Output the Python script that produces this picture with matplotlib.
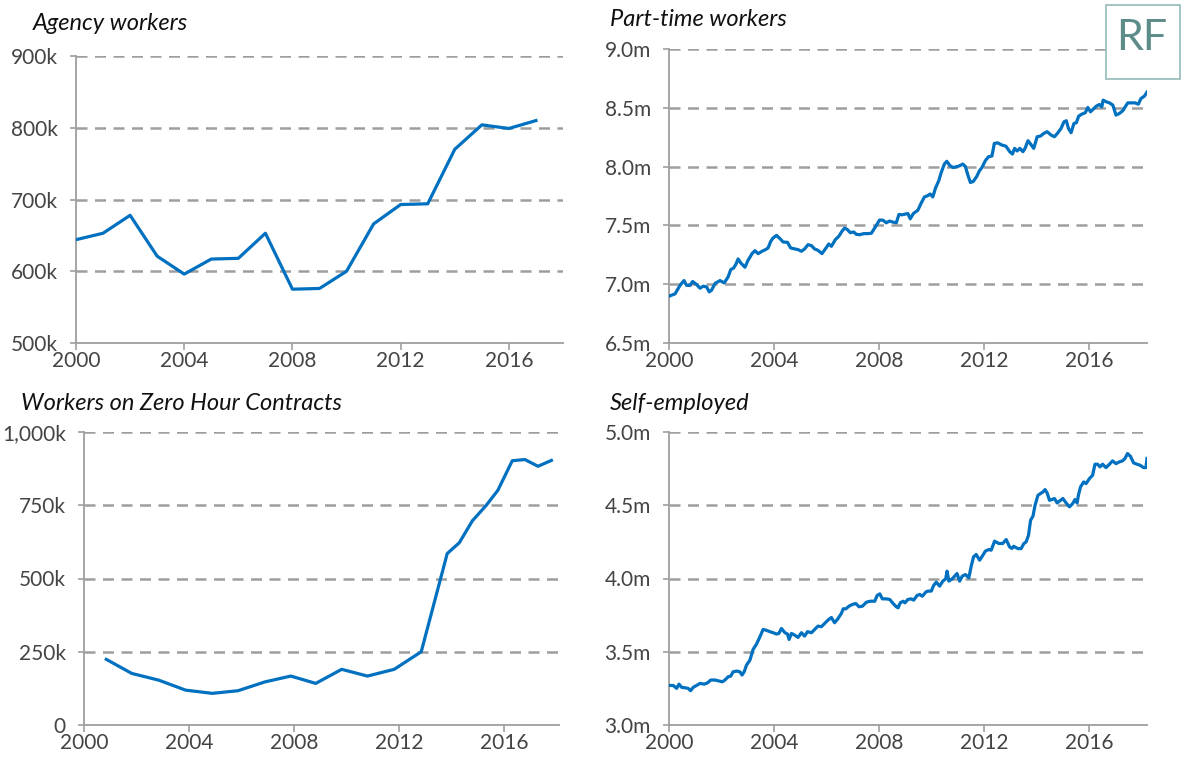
import matplotlib
matplotlib.use("Agg")
import matplotlib.pyplot as plt
from matplotlib.patches import Rectangle

# ---------------- data ----------------
agency_years = list(range(2000, 2018))
agency_vals = [644, 653, 678, 621, 596, 617, 618, 653, 575, 576, 600, 666,
               693, 694, 770, 804, 799, 810]  # thousands

zhc_years = [2000.85, 2001.82, 2002.85, 2003.87, 2004.89, 2005.87, 2006.89,
             2007.88, 2008.83, 2009.82, 2010.8, 2011.82, 2012.85, 2013.84,
             2014.3, 2014.8, 2015.33, 2015.77, 2016.32, 2016.8, 2017.3, 2017.81]
zhc_vals = [224, 176, 153, 119, 108, 117, 147, 167, 142, 190, 167, 190, 250,
            585, 622, 697, 750, 801, 902, 906, 883, 903]  # thousands

pt_years = [2000.0, 2000.23, 2000.42, 2000.57, 2000.67, 2000.8, 2000.9, 2001.05,
            2001.18, 2001.3, 2001.43, 2001.53, 2001.62, 2001.75, 2001.94, 2002.1,
            2002.25, 2002.35, 2002.46, 2002.54, 2002.63, 2002.73, 2002.89, 2003.0,
            2003.16, 2003.27, 2003.39, 2003.54, 2003.67, 2003.77, 2003.87, 2003.96,
            2004.09, 2004.24, 2004.34, 2004.51, 2004.63, 2004.78, 2004.91, 2005.04,
            2005.16, 2005.29, 2005.42, 2005.54, 2005.67, 2005.82, 2005.95, 2006.08,
            2006.18, 2006.33, 2006.46, 2006.58, 2006.68, 2006.78, 2006.9, 2007.03,
            2007.13, 2007.26, 2007.41, 2007.57, 2007.7, 2007.86, 2008.01, 2008.14,
            2008.27, 2008.39, 2008.52, 2008.65, 2008.75, 2008.87, 2009.0, 2009.09,
            2009.18, 2009.3, 2009.47, 2009.6, 2009.72, 2009.85, 2009.94, 2010.04,
            2010.14, 2010.27, 2010.35, 2010.48, 2010.57, 2010.7, 2010.82, 2010.95,
            2011.05, 2011.18, 2011.28, 2011.37, 2011.47, 2011.58, 2011.71, 2011.81,
            2011.91, 2012.04, 2012.16, 2012.29, 2012.38, 2012.51, 2012.67, 2012.82,
            2012.97, 2013.07, 2013.15, 2013.25, 2013.35, 2013.47, 2013.55, 2013.66,
            2013.76, 2013.88, 2014.01, 2014.14, 2014.26, 2014.39, 2014.54, 2014.67,
            2014.8, 2014.92, 2015.03, 2015.12, 2015.2, 2015.3, 2015.41, 2015.5,
            2015.59, 2015.71, 2015.84, 2015.94, 2016.04, 2016.13, 2016.26, 2016.38,
            2016.47, 2016.52, 2016.64, 2016.76, 2016.89, 2016.95, 2017.01, 2017.14,
            2017.27, 2017.36, 2017.46, 2017.58, 2017.73, 2017.86, 2017.96, 2018.09,
            2018.19]
pt_vals = [6.898, 6.918, 6.99, 7.031, 6.99, 6.99, 7.023, 6.997,
           6.966, 6.983, 6.977, 6.935, 6.949, 7.006, 7.031, 7.011,
           7.062, 7.124, 7.138, 7.167, 7.215, 7.181, 7.144, 7.2,
           7.26, 7.285, 7.26, 7.28, 7.294, 7.308, 7.364, 7.393,
           7.415, 7.384, 7.359, 7.356, 7.308, 7.3, 7.294, 7.28,
           7.3, 7.336, 7.328, 7.3, 7.288, 7.26, 7.3, 7.342,
           7.322, 7.379, 7.407, 7.449, 7.477, 7.466, 7.438, 7.444,
           7.424, 7.421, 7.43, 7.43, 7.433, 7.489, 7.545, 7.545,
           7.522, 7.537, 7.528, 7.522, 7.593, 7.59, 7.596, 7.601,
           7.556, 7.601, 7.629, 7.691, 7.742, 7.753, 7.767, 7.742,
           7.817, 7.882, 7.944, 8.022, 8.045, 8.006, 7.992, 8.0,
           8.006, 8.022, 8.0, 7.93, 7.865, 7.874, 7.916, 7.963,
           7.992, 8.051, 8.084, 8.09, 8.197, 8.202, 8.183, 8.174,
           8.126, 8.107, 8.155, 8.133, 8.155, 8.127, 8.155, 8.22,
           8.192, 8.155, 8.254, 8.26, 8.282, 8.297, 8.268, 8.254,
           8.288, 8.325, 8.381, 8.39, 8.325, 8.288, 8.367, 8.373,
           8.429, 8.446, 8.458, 8.503, 8.466, 8.486, 8.514, 8.528,
           8.508, 8.565, 8.551, 8.542, 8.523, 8.48, 8.438, 8.452,
           8.475, 8.508, 8.542, 8.542, 8.542, 8.531, 8.579, 8.599,
           8.633]  # millions

se_years = [2000.0, 2000.16, 2000.29, 2000.38, 2000.48, 2000.61, 2000.73, 2000.82,
            2000.92, 2001.05, 2001.18, 2001.34, 2001.47, 2001.59, 2001.75, 2001.87,
            2002.03, 2002.13, 2002.25, 2002.35, 2002.44, 2002.57, 2002.7, 2002.78,
            2002.86, 2002.95, 2003.08, 2003.2, 2003.33, 2003.46, 2003.58, 2003.68,
            2003.84, 2003.96, 2004.09, 2004.18, 2004.28, 2004.41, 2004.51, 2004.57,
            2004.66, 2004.78, 2004.91, 2005.04, 2005.16, 2005.27, 2005.42, 2005.54,
            2005.67, 2005.8, 2005.92, 2006.05, 2006.18, 2006.3, 2006.41, 2006.56,
            2006.63, 2006.73, 2006.85, 2006.98, 2007.11, 2007.23, 2007.36, 2007.51,
            2007.66, 2007.83, 2007.92, 2008.02, 2008.12, 2008.27, 2008.4, 2008.53,
            2008.65, 2008.72, 2008.8, 2008.91, 2008.98, 2009.09, 2009.22, 2009.31,
            2009.44, 2009.54, 2009.64, 2009.77, 2009.85, 2009.98, 2010.07, 2010.17,
            2010.3, 2010.42, 2010.53, 2010.58, 2010.65, 2010.78, 2010.87, 2010.96,
            2011.06, 2011.16, 2011.28, 2011.41, 2011.5, 2011.59, 2011.69, 2011.82,
            2011.92, 2012.04, 2012.17, 2012.26, 2012.39, 2012.55, 2012.7, 2012.83,
            2012.96, 2013.05, 2013.12, 2013.2, 2013.28, 2013.4, 2013.5, 2013.59,
            2013.68, 2013.76, 2013.85, 2013.93, 2014.04, 2014.14, 2014.23, 2014.31,
            2014.39, 2014.48, 2014.57, 2014.67, 2014.77, 2014.9, 2014.99, 2015.11,
            2015.24, 2015.36, 2015.45, 2015.53, 2015.58, 2015.66, 2015.78, 2015.87,
            2016.0, 2016.12, 2016.21, 2016.31, 2016.4, 2016.5, 2016.63, 2016.76,
            2016.88, 2017.01, 2017.14, 2017.26, 2017.35, 2017.45, 2017.56, 2017.68,
            2017.81, 2017.93, 2018.06, 2018.15, 2018.19]
se_vals = [3.27, 3.27, 3.25, 3.279, 3.257, 3.254, 3.25, 3.234,
           3.257, 3.27, 3.284, 3.279, 3.288, 3.307, 3.307, 3.302,
           3.295, 3.307, 3.329, 3.334, 3.363, 3.368, 3.363, 3.341,
           3.363, 3.409, 3.443, 3.516, 3.552, 3.602, 3.652, 3.648,
           3.637, 3.63, 3.621, 3.625, 3.659, 3.63, 3.621, 3.584,
           3.625, 3.614, 3.598, 3.63, 3.607, 3.637, 3.63, 3.652,
           3.675, 3.671, 3.693, 3.716, 3.734, 3.698, 3.721, 3.762,
           3.793, 3.793, 3.811, 3.823, 3.829, 3.807, 3.811, 3.838,
           3.845, 3.845, 3.884, 3.895, 3.861, 3.861, 3.857, 3.829,
           3.807, 3.8, 3.834, 3.845, 3.834, 3.857, 3.861, 3.852,
           3.884, 3.891, 3.879, 3.907, 3.914, 3.914, 3.952, 3.975,
           3.948, 3.982, 3.998, 4.05, 3.982, 3.998, 4.016, 4.034,
           3.982, 4.016, 4.027, 4.005, 4.084, 4.148, 4.164, 4.125,
           4.152, 4.187, 4.198, 4.193, 4.255, 4.239, 4.239, 4.266,
           4.216, 4.205, 4.22, 4.211, 4.204, 4.204, 4.238, 4.25,
           4.295, 4.398, 4.425, 4.5, 4.568, 4.58, 4.591, 4.607,
           4.584, 4.534, 4.539, 4.546, 4.516, 4.534, 4.546, 4.516,
           4.489, 4.511, 4.539, 4.516, 4.568, 4.625, 4.659, 4.648,
           4.682, 4.705, 4.78, 4.78, 4.762, 4.78, 4.757, 4.78,
           4.803, 4.784, 4.796, 4.803, 4.819, 4.853, 4.834, 4.789,
           4.78, 4.773, 4.757, 4.757, 4.819]  # millions

x_ticks = [2000, 2004, 2008, 2012, 2016]
agency_yticks = [500, 600, 700, 800, 900]
agency_ylabels = ["500k", "600k", "700k", "800k", "900k"]
zhc_yticks = [0, 250, 500, 750, 1000]
zhc_ylabels = ["0", "250k", "500k", "750k", "1,000k"]
pt_yticks = [6.5, 7.0, 7.5, 8.0, 8.5, 9.0]
pt_ylabels = ["6.5m", "7.0m", "7.5m", "8.0m", "8.5m", "9.0m"]
se_yticks = [3.0, 3.5, 4.0, 4.5, 5.0]
se_ylabels = ["3.0m", "3.5m", "4.0m", "4.5m", "5.0m"]

titles = ["Agency workers", "Part-time workers",
          "Workers on Zero Hour Contracts", "Self-employed"]

# ---------------- style ----------------
W, H = 1184, 767
LINE = "#0070C0"
GRID = "#9e9e9e"
TXT = "#444444"
FONT = ["Lato", "DejaVu Sans"]
plt.rcParams["font.family"] = FONT

fig = plt.figure(figsize=(W / 100, H / 100), dpi=100)


def px_axes(l, r, t, b):
    return fig.add_axes([l / W, 1 - b / H, (r - l) / W, (b - t) / H])


def style(ax, xlim, ylim, yticks, ylabels):
    ax.set_xlim(*xlim)
    ax.set_ylim(*ylim)
    ax.set_xticks(x_ticks)
    ax.set_xticklabels([str(x) for x in x_ticks])
    ax.set_yticks(yticks)
    ax.set_yticklabels(ylabels)
    for s in ["top", "right"]:
        ax.spines[s].set_visible(False)
    for s in ["left", "bottom"]:
        ax.spines[s].set_color(GRID)
        ax.spines[s].set_linewidth(1.3)
    ax.tick_params(axis="x", length=5, width=1.2, color=GRID, labelsize=15,
                   labelcolor=TXT, pad=1)
    ax.tick_params(axis="y", length=4, width=1.2, color=GRID, labelsize=15,
                   labelcolor=TXT, pad=9)
    for y in yticks:
        if y == ylim[0]:
            continue
        ax.axhline(y, color=GRID, lw=1.8, dashes=(4.4, 3.0), zorder=1)
    ax.set_facecolor("none")


ax1 = px_axes(76, 563, 56, 343)
ax1.plot(agency_years, agency_vals, color=LINE, lw=2.3, zorder=3)
style(ax1, (2000, 2018), (500, 900), agency_yticks, agency_ylabels)

ax2 = px_axes(669, 1147, 49, 343)
ax2.plot(pt_years, pt_vals, color=LINE, lw=2.3, zorder=3)
style(ax2, (2000, pt_years[-1]), (6.5, 9.0), pt_yticks, pt_ylabels)

ax3 = px_axes(84, 559, 432, 725)
ax3.plot(zhc_years, zhc_vals, color=LINE, lw=2.3, zorder=3)
style(ax3, (2000, 2018.1), (0, 1000), zhc_yticks, zhc_ylabels)

ax4 = px_axes(669, 1147, 432, 725)
ax4.plot(se_years, se_vals, color=LINE, lw=2.3, zorder=3)
style(ax4, (2000, se_years[-1]), (3.0, 5.0), se_yticks, se_ylabels)

# titles
title_pos = [(33, 24), (610, 20), (21, 403), (610, 403)]
for t, (x, y) in zip(titles, title_pos):
    fig.text(x / W, 1 - y / H, t, ha="left", va="center", style="italic",
             fontsize=17, color="#111111")

# RF logo
fig.patches.append(Rectangle((1106 / W, 1 - 79 / H), 74 / W, 74 / H,
                             transform=fig.transFigure, facecolor="white",
                             edgecolor="#9cc0bf", lw=1.3, zorder=5))
fig.text(1142 / W, 1 - 38 / H, "RF", ha="center", va="center", fontsize=31,
         color="#5e8d89", zorder=6)

fig.savefig("out.png", dpi=100, facecolor="white")
